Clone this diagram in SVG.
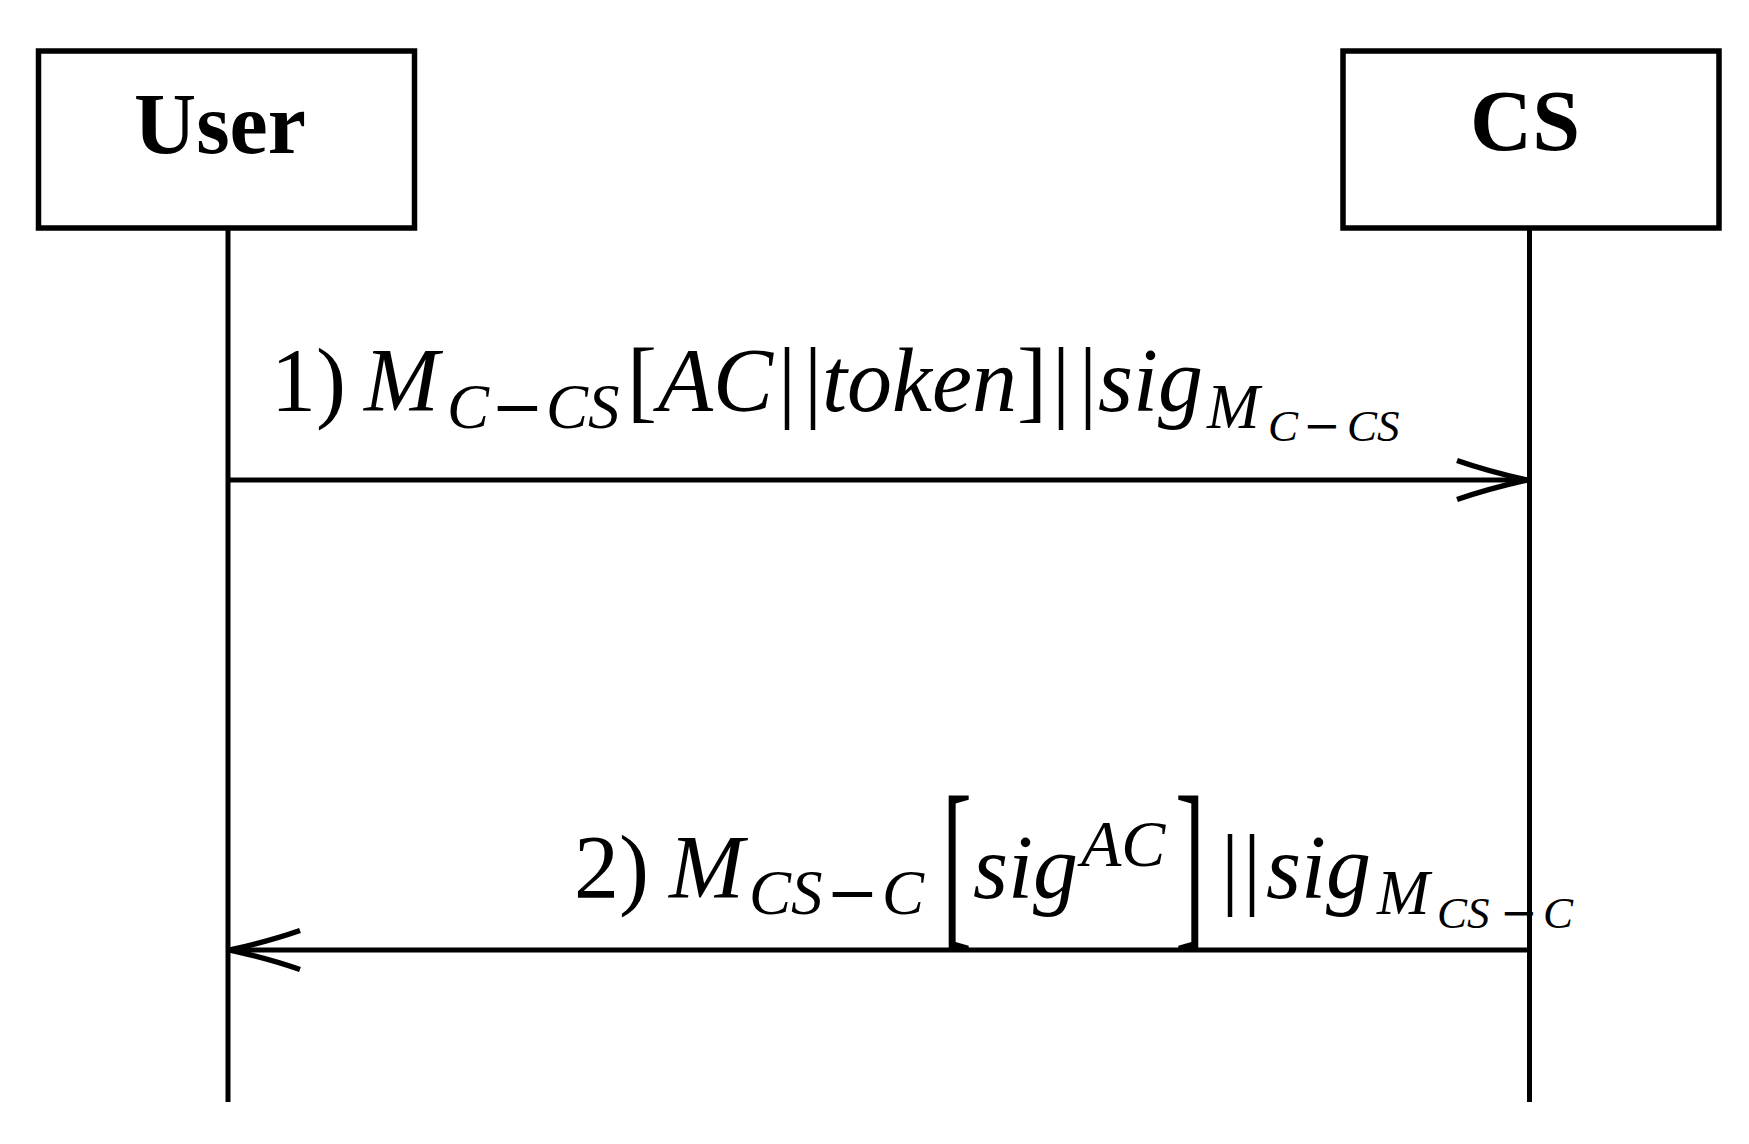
<svg xmlns="http://www.w3.org/2000/svg" width="1749" height="1144" viewBox="0 0 1749 1144">
<defs>
<style>
.box{fill:#fff;stroke:#000;stroke-width:5.5}
.life{stroke:#000;stroke-width:5;fill:none}
.msg{stroke:#000;stroke-width:5;fill:none}
.title{font-family:"Liberation Serif",serif;font-weight:bold;font-size:86px;fill:#000}
.rm{font-family:"Liberation Serif",serif;font-size:90px;fill:#000}
.it{font-family:"Liberation Serif",serif;font-style:italic;font-size:90px;fill:#000}
.mi{font-family:"DejaVu Serif",serif;fill:#000}
.s1{font-size:63px}
.s2{font-size:45px}
.sup{font-size:66px}
</style>
<marker id="arr" markerUnits="userSpaceOnUse" viewBox="-75 -25 80 50" refX="0" refY="0" markerWidth="80" markerHeight="50" orient="auto" overflow="visible">
<path d="M-70,-19.5 Q-40,-9 0,0 Q-40,9 -70,19.5" fill="none" stroke="#000" stroke-width="5.5"/>
</marker>
</defs>
<rect width="1749" height="1144" fill="#fff"/>
<g id="user">
<rect class="box" x="38.5" y="51" width="376" height="177"/>
<text class="title" x="220" y="153" text-anchor="middle">User</text>
</g>
<g id="cs">
<rect class="box" x="1343" y="51" width="376" height="177"/>
<text class="title" x="1525" y="150" text-anchor="middle">CS</text>
</g>
<g id="connectors">
<line class="life" x1="228" y1="228" x2="228" y2="1102"/>
<line class="life" x1="1529.5" y1="228" x2="1529.5" y2="1102"/>
<line class="msg" x1="228" y1="480" x2="1527" y2="480" marker-end="url(#arr)"/>
<line class="msg" x1="1529.5" y1="950" x2="230" y2="950" marker-end="url(#arr)"/>
</g>
<g id="label1">
<text class="rm" x="271" y="411">1)</text>
<text class="it" x="364" y="411">M</text>
<text class="it s1" x="447" y="428">C</text>
<text class="mi s1" x="491" y="428">−</text>
<text class="it s1" x="546" y="428">CS</text>
<text class="rm" x="627" y="411">[</text>
<text class="it" x="658" y="411">AC</text>
<text class="rm" x="778" y="411">|</text>
<text class="rm" x="804" y="411">|</text>
<text class="it" x="822" y="411">token</text>
<text class="rm" x="1017" y="411">]</text>
<text class="rm" x="1052" y="411">|</text>
<text class="rm" x="1079" y="411">|</text>
<text class="it" x="1098" y="411">sig</text>
<text class="it s1" x="1207" y="428">M</text>
<text class="it s2" x="1268" y="441">C</text>
<text class="mi s2" x="1303" y="441">−</text>
<text class="it s2" x="1347" y="441">CS</text>
</g>
<g id="label2">
<text class="rm" x="574" y="898">2)</text>
<text class="it" x="669" y="898">M</text>
<text class="it s1" x="749" y="914">CS</text>
<text class="mi s1" x="826" y="914">−</text>
<text class="it s1" x="882" y="914">C</text>
<text class="rm" transform="translate(942,925) scale(1,2.06)" x="0" y="0">[</text>
<text class="it" x="973" y="898">sig</text>
<text class="it sup" x="1081" y="866">AC</text>
<text class="rm" transform="translate(1175,925) scale(1,2.06)" x="0" y="0">]</text>
<text class="rm" x="1221" y="898">|</text>
<text class="rm" x="1243" y="898">|</text>
<text class="it" x="1266" y="898">sig</text>
<text class="it s1" x="1377" y="914">M</text>
<text class="it s2" x="1437" y="928">CS</text>
<text class="mi s2" x="1500" y="928">−</text>
<text class="it s2" x="1543" y="928">C</text>
</g>
</svg>
